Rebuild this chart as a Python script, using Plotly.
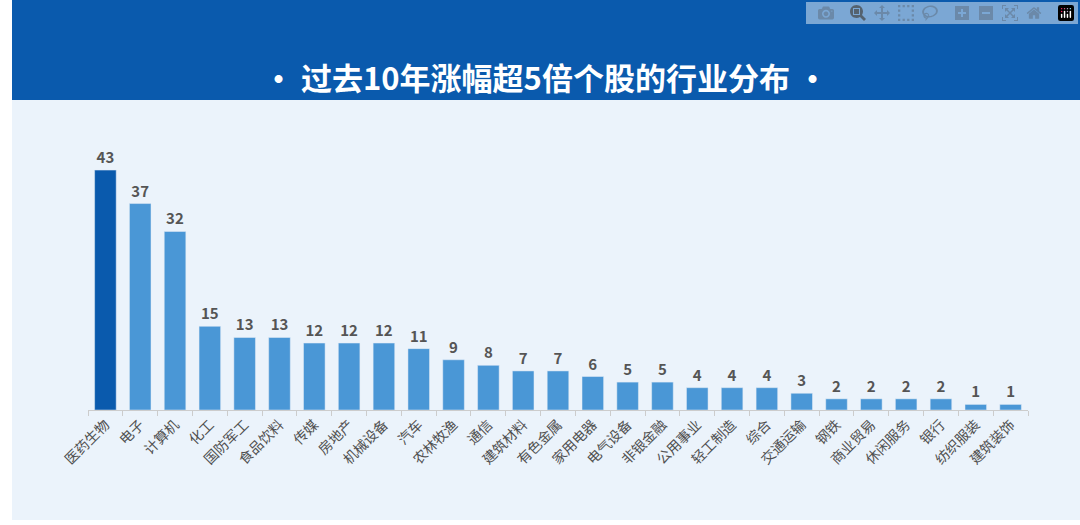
import plotly.graph_objects as go

# === DADOS ===
industries = ["医药生物", "电子", "计算机", "化工", "国防军工", "食品饮料", "传媒", "房地产",
              "机械设备", "汽车", "农林牧渔", "通信", "建筑材料", "有色金属", "家用电器",
              "电气设备", "非银金融", "公用事业", "轻工制造", "综合", "交通运输", "钢铁",
              "商业贸易", "休闲服务", "银行", "纺织服装", "建筑装饰"]
counts = [43, 37, 32, 15, 13, 13, 12, 12, 12, 11, 9, 8, 7, 7, 6, 5, 5, 4, 4, 4, 3, 2, 2, 2, 2, 1, 1]
title_text = "• 过去10年涨幅超5倍个股的行业分布 •"

W, H = 1080, 525
FONT = "Noto Sans CJK SC"
colors = ["#0a5aad"] + ["#4a97d6"] * (len(counts) - 1)

fig = go.Figure()
fig.add_trace(go.Bar(
    x=industries, y=counts,
    marker_color=colors, width=0.62,
    text=counts, textposition="outside", cliponaxis=False,
    textfont=dict(family=FONT, size=15, color="#555555", weight="bold"),
))

# faixa branca à esquerda, faixa do título e borda inferior
fig.add_shape(type="rect", xref="paper", yref="paper", layer="below",
              x0=-88 / 940, x1=(12 - 88) / 940, y0=-115 / 260, y1=410 / 260,
              line_width=0, fillcolor="white")
fig.add_shape(type="rect", xref="paper", yref="paper", layer="below",
              x0=(12 - 88) / 940, x1=(1080 - 88) / 940,
              y0=(410 - 100) / 260, y1=410 / 260,
              line_width=0, fillcolor="#0a5aad")
fig.add_shape(type="rect", xref="paper", yref="paper", layer="below",
              x0=-88 / 940, x1=(1080 - 88) / 940,
              y0=-115 / 260, y1=-110 / 260,
              line_width=0, fillcolor="white")

fig.add_annotation(text=title_text, xref="paper", yref="paper",
                   x=(545 - 88) / 940, y=(410 - 52) / 260, showarrow=False,
                   font=dict(family=FONT, size=31, color="white", weight="bold"))

fig.update_layout(
    width=W, height=H,
    margin=dict(l=88, r=52, t=150, b=115),
    paper_bgcolor="#ebf3fb", plot_bgcolor="rgba(0,0,0,0)",
    showlegend=False,
    font=dict(family=FONT),
)
fig.update_xaxes(tickangle=-45, tickfont=dict(family=FONT, size=14, color="#505050"),
                 showline=True, linecolor="#cccccc", ticks="outside", tickson="boundaries",
                 ticklen=5, tickcolor="#cccccc", showgrid=False)
fig.update_yaxes(visible=False, range=[0, 46.6])

fig.write_html("out.html", post_script="document.body.style.margin='0px';")
